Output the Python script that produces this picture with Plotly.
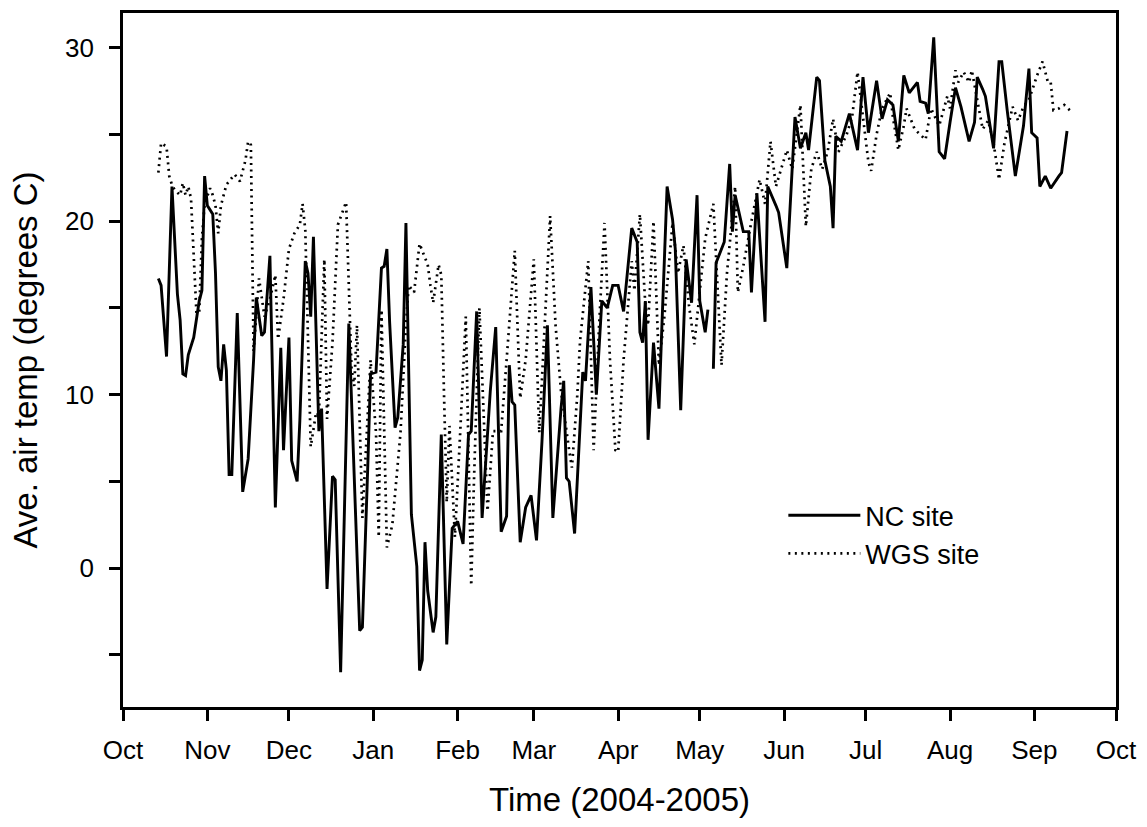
import pandas as pd
import plotly.graph_objects as go

# Daily mean air temperature, 2004-2005 water year.
# Days are counted from 1 October 2004 (day of water year).
WATER_YEAR_START = "2004-10-01"

NC_DAY = [13, 14, 16, 18, 20, 21, 22, 23, 24, 26, 28, 29, 30, 31, 33, 34, 35, 36, 37, 38,
          39, 40, 42, 44, 46, 47, 48, 49, 51, 52, 54, 56, 58, 59, 61, 62, 64, 65, 66, 67,
          68, 69, 70, 71, 72, 73, 75, 77, 78, 80, 83, 87, 88, 90, 91, 93, 95, 96, 97, 98,
          100, 101, 103, 104, 106, 108, 109, 110, 111, 112, 114, 115, 117, 119, 121, 123, 125, 127, 128, 130,
          132, 135, 137, 139, 141, 142, 143, 144, 146, 148, 150, 152, 154, 156, 158, 161, 162, 163, 164, 166,
          169, 170, 172, 174, 176, 178, 180, 182, 184, 187, 189, 190, 191, 192, 193, 195, 197, 198, 200, 202,
          203, 205, 207, 209, 211, 212, 214, 215, 216, 217, 218, 221, 223, 224, 225, 228, 230, 231, 233, 236,
          237, 240, 241, 244, 247, 249, 251, 252, 255, 256, 258, 260, 261, 262, 264, 267, 270, 272, 274, 277,
          279, 281, 283, 285, 287, 289, 290, 292, 293, 295, 296, 298, 300, 302, 304, 306, 308, 310, 311, 313,
          314, 316, 317, 320, 322, 323, 325, 328, 331, 333, 334, 336, 337, 339, 341, 344, 345, 347]
NC_TEMP = [16.7, 16.3, 12.2, 22.0, 15.8, 14.3, 11.2, 11.1, 12.3, 13.3, 15.4, 16.0, 22.6, 20.9, 20.4, 17.0, 11.6, 10.8, 12.9, 11.4,
           5.4, 5.4, 14.7, 4.4, 6.3, 9.0, 12.0, 15.6, 13.4, 13.6, 18.0, 3.5, 12.7, 6.8, 13.3, 6.2, 5.0, 8.5, 13.0, 17.7,
           17.0, 14.5, 19.1, 12.9, 7.9, 9.2, -1.2, 5.3, 5.1, -6.0, 14.1, -3.6, -3.4, 6.0, 11.2, 11.3, 17.3, 17.4, 18.4, 14.2,
           8.1, 8.7, 12.9, 19.9, 3.1, 0.1, -5.9, -5.3, 1.5, -1.3, -3.7, -2.8, 7.7, -4.4, 2.3, 2.7, 1.4, 7.7, 7.9, 14.8,
           2.9, 10.2, 13.9, 2.1, 3.0, 11.7, 9.6, 9.4, 1.5, 3.5, 4.2, 1.6, 7.3, 14.0, 2.9, 9.2, 10.8, 5.2, 5.0, 2.0,
           11.3, 10.8, 16.2, 10.0, 15.4, 15.0, 16.3, 16.3, 14.8, 19.6, 18.8, 13.6, 13.0, 15.4, 7.4, 13.0, 9.2, 13.6, 22.0, 20.1,
           18.4, 9.1, 17.8, 15.3, 21.5, 15.4, 13.6, 14.9, None, 11.5, 17.6, 18.8, 23.3, 19.4, 21.5, 19.4, 19.4, 15.9, 21.6, 14.2,
           22.0, 20.9, 20.5, 17.3, 26.0, 24.2, 25.1, 24.1, 28.3, 28.1, 23.5, 22.0, 19.6, 24.9, 24.6, 26.2, 24.1, 28.3, 25.1, 28.1,
           25.9, 27.0, 26.7, 24.6, 28.4, 27.4, 27.6, 28.0, 26.9, 26.8, 26.2, 30.6, 24.0, 23.6, 25.7, 27.7, 26.6, 25.3, 24.6, 25.7,
           28.3, 27.6, 27.2, 24.2, 29.2, 29.2, 26.4, 22.6, 25.5, 28.8, 25.1, 24.8, 22.0, 22.6, 21.9, 22.6, 22.8, 25.2]

WGS_DAY = [13, 14, 16, 17, 18, 19, 21, 22, 23, 24, 25, 26, 27, 28, 29, 30, 32, 33, 34, 35,
           36, 38, 41, 43, 44, 45, 46, 47, 48, 50, 52, 54, 56, 57, 59, 61, 63, 65, 66, 67,
           69, 71, 72, 74, 75, 77, 79, 81, 82, 84, 85, 86, 88, 90, 91, 93, 94, 95, 97, 99,
           102, 104, 105, 107, 109, 110, 112, 113, 114, 116, 117, 118, 119, 120, 122, 124, 126, 128, 129, 131,
           134, 136, 139, 141, 144, 146, 148, 151, 153, 155, 157, 159, 161, 164, 165, 167, 168, 171, 173, 175,
           177, 179, 181, 182, 184, 187, 188, 190, 192, 193, 195, 197, 199, 202, 204, 206, 208, 210, 212, 214,
           217, 220, 222, 225, 226, 228, 231, 234, 236, 238, 240, 242, 244, 246, 249, 251, 253, 255, 257, 259,
           261, 263, 266, 268, 270, 272, 274, 275, 277, 279, 282, 283, 285, 287, 288, 291, 293, 295, 297, 300,
           303, 304, 306, 307, 309, 311, 312, 314, 316, 318, 320, 322, 324, 327, 329, 331, 333, 336, 338, 340,
           341, 342, 344, 346, 348]
WGS_TEMP = [22.8, 24.5, 24.3, 22.6, 22.1, 21.8, 21.5, 22.2, 21.5, 22.0, 21.3, 17.5, 14.7, 14.7, 19.0, 21.0, 21.9, 21.5, 20.9, 19.3,
            20.9, 22.1, 22.7, 22.3, 22.9, 23.5, 24.6, 24.4, 12.5, 16.7, 14.5, 15.5, 16.9, 13.2, 15.5, 18.4, 19.3, 19.8, 21.0, 19.5,
            7.0, 9.0, 8.8, 17.8, 8.6, 13.0, 19.8, 20.6, 21.1, 11.5, 10.5, 14.0, 2.9, 9.0, 12.0, 7.8, 1.8, 14.9, 1.2, 2.5,
            7.8, 14.0, 16.3, 15.9, 18.7, 18.3, 17.5, 16.3, 15.3, 17.5, 16.9, 10.0, 3.8, 8.2, 1.8, 8.0, 14.5, -1.0, 5.0, 15.0,
            3.3, 7.9, 7.9, 12.0, 18.3, 9.8, 12.0, 17.8, 7.8, 14.0, 20.3, 14.0, 10.2, 6.8, 5.8, 10.0, 13.1, 17.7, 6.8, 14.0,
            19.9, 12.0, 6.8, 6.7, 12.0, 17.7, 16.0, 20.4, 15.2, 14.0, 20.0, 11.7, 14.5, 19.9, 17.0, 18.6, 15.2, 12.9, 16.0, 19.0,
            21.0, 11.7, 17.0, 22.0, 15.9, 17.4, 20.0, 22.4, 21.0, 24.6, 22.0, 23.0, 24.1, 23.0, 26.7, 19.7, 23.0, 24.0, 23.0, 24.0,
            25.9, 24.0, 25.0, 26.0, 28.6, 26.0, 23.4, 22.9, 25.0, 26.5, 27.4, 26.0, 24.1, 25.5, 26.5, 25.3, 25.0, 24.7, 26.5, 25.5,
            27.2, 26.5, 28.7, 28.0, 28.6, 28.0, 28.7, 27.0, 25.3, 25.8, 24.5, 22.4, 24.5, 26.6, 25.8, 26.6, 27.0, 28.4, 29.2, 28.0,
            28.0, 26.4, 26.5, 26.7, 26.4]

Y_TICKS = [-5, 0, 5, 10, 15, 20, 25, 30]
Y_TICK_TEXT = ["", "0", "", "10", "", "20", "", "30"]

start = pd.Timestamp(WATER_YEAR_START)
nc_dates = start + pd.to_timedelta(NC_DAY, unit="D")
wgs_dates = start + pd.to_timedelta(WGS_DAY, unit="D")

FONT = "Liberation Sans, Arial, sans-serif"

fig = go.Figure()
fig.add_trace(go.Scatter(
    x=nc_dates, y=NC_TEMP, mode="lines", name="NC site",
    line=dict(color="black", width=2.9), connectgaps=False,
))
fig.add_trace(go.Scatter(
    x=wgs_dates, y=WGS_TEMP, mode="lines", name="WGS site",
    line=dict(color="black", width=2.7, dash="2px,4.5px"),
))

axis_common = dict(
    showline=True, linecolor="black", linewidth=2.6, mirror=True,
    ticks="outside", ticklen=11, tickwidth=2.6, tickcolor="black",
    showgrid=False, zeroline=False,
    tickfont=dict(family=FONT, size=26, color="black"),
)

fig.update_xaxes(
    type="date", range=["2004-10-01", "2005-10-01"],
    tick0="2004-10-01", dtick="M1", tickformat="%b",
    ticklabelstandoff=7,
    title=dict(text="Time (2004-2005)", font=dict(family=FONT, size=33, color="black"), standoff=24),
    **axis_common,
)
fig.update_yaxes(
    range=[-8, 32], tickmode="array", tickvals=Y_TICKS, ticktext=Y_TICK_TEXT,
    ticklabelstandoff=10,
    title=dict(text="Ave. air temp (degrees C)", font=dict(family=FONT, size=33, color="black"), standoff=18),
    **axis_common,
)

fig.update_layout(
    width=1147, height=827,
    margin=dict(l=123, r=27, t=10, b=120),
    paper_bgcolor="white", plot_bgcolor="white",
    font=dict(family=FONT, color="black"),
    showlegend=True,
    legend=dict(
        x=0.665, y=0.311, xanchor="left", yanchor="top",
        bgcolor="rgba(0,0,0,0)", borderwidth=0,
        font=dict(family=FONT, size=27, color="black"),
        itemwidth=72, tracegroupgap=0,
    ),
)

fig.write_html("out.html")
